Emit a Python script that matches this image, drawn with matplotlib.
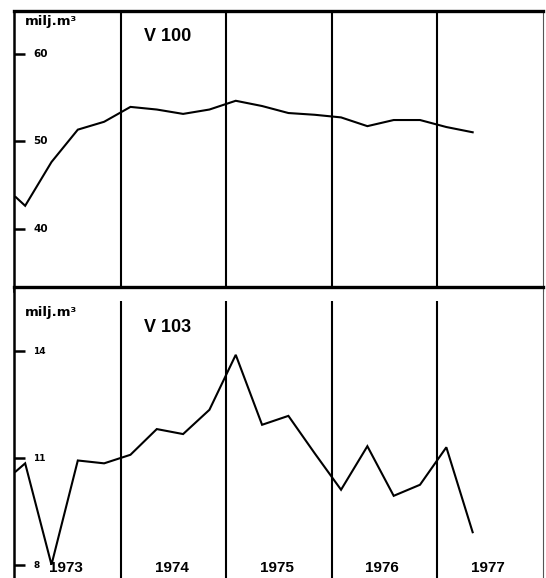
import matplotlib
matplotlib.use("Agg")
import matplotlib.pyplot as plt
import matplotlib.transforms as mtransforms

plt.rcParams['font.family'] = ['Liberation Sans', 'DejaVu Sans']

# ---- data ----
years = [1973, 1974, 1975, 1976, 1977]
year_labels = ["1973", "1974", "1975", "1976", "1977"]
# quarterly observations (first value = where the line enters at start of 1973)
v100 = [43.6, 42.6, 47.6, 51.3, 52.2, 53.9, 53.6, 53.1, 53.6, 54.6,
        54.0, 53.2, 53.0, 52.7, 51.7, 52.4, 52.4, 51.6, 51.0]
v103 = [10.63, 10.86, 8.02, 10.94, 10.86, 11.1, 11.82, 11.68, 12.36, 13.9,
        11.94, 12.19, 11.14, 10.12, 11.34, 9.95, 10.26, 11.31, 8.93]
v100_ticks = [40, 50, 60]
v103_ticks = [8, 11, 14]
unit_label = "milj.m\u00b3"
titles = ["V 100", "V 103"]

# x positions: start of 1973, then quarterly points
x_pos = [1973.0] + [1973.09 + 0.25 * k for k in range(len(v100) - 1)]

W, H = 546, 578
fig = plt.figure(figsize=(W / 100, H / 100), dpi=100)

def fx(px):
    return px / W

def fy(py):
    return 1 - py / H

left_px, right_px = 14, 543
ax1 = fig.add_axes([fx(left_px), fy(291), fx(right_px - left_px), (291 - 11) / H])
ax2 = fig.add_axes([fx(left_px), 0.0, fx(right_px - left_px), 291 / H])

xlim = (1972.984, 1978.008)

def style(ax, ylim, ticks, vtop, vbot, tick_fs, title, title_y, unit_y):
    ax.set_xlim(*xlim)
    ax.set_ylim(*ylim)
    ax.set_xticks([])
    ax.set_yticks([])
    ax.spines['top'].set_linewidth(2.4)
    ax.spines['left'].set_linewidth(1.8)
    ax.spines['right'].set_linewidth(0.8)
    ax.spines['right'].set_color('#555555')
    ax.spines['bottom'].set_visible(False)
    # year boundaries
    ax.vlines(years[1:], vbot, vtop, colors='black', linewidth=1.5)
    # ticks drawn inside
    trans = mtransforms.blended_transform_factory(ax.transAxes, ax.transData)
    for t in ticks:
        ax.plot([0.0, 0.021], [t, t], color='black', linewidth=1.8,
                transform=trans, clip_on=False, solid_capstyle='butt')
        ax.text(0.036, t, str(t), transform=trans, ha='left', va='center',
                fontsize=tick_fs, fontweight='bold', family='DejaVu Sans')
    ax.text(0.021, unit_y, unit_label, transform=ax.transAxes, ha='left',
            va='center', fontsize=9.5, fontweight='bold', family='DejaVu Sans')
    ax.text(1974.0 + (168 - 121) / 105.3, title_y, title,
            transform=mtransforms.blended_transform_factory(ax.transData, ax.transAxes),
            ha='center', va='center', fontsize=13, fontweight='bold')

style(ax1, (32.86, 64.86), v100_ticks, 64.86, 33.31, 7.5, titles[0],
      1 - (36.5 - 11) / 280, 1 - (22 - 11) / 280)
style(ax2, (7.648, 15.80), v103_ticks, 15.40, 7.0, 6.5, titles[1],
      1 - (331 - 291) / 287, 1 - (316 - 291) / 287)

ax1.plot(x_pos, v100, color='black', linewidth=1.5, solid_joinstyle='miter')
ax2.plot(x_pos, v103, color='black', linewidth=1.5, solid_joinstyle='miter')

for y, lab in zip(years, year_labels):
    ax2.text(y + 0.48, 7.93, lab, ha='center', va='center', fontsize=11,
             fontweight='bold')

fig.savefig("out.png", dpi=100, facecolor='white')
